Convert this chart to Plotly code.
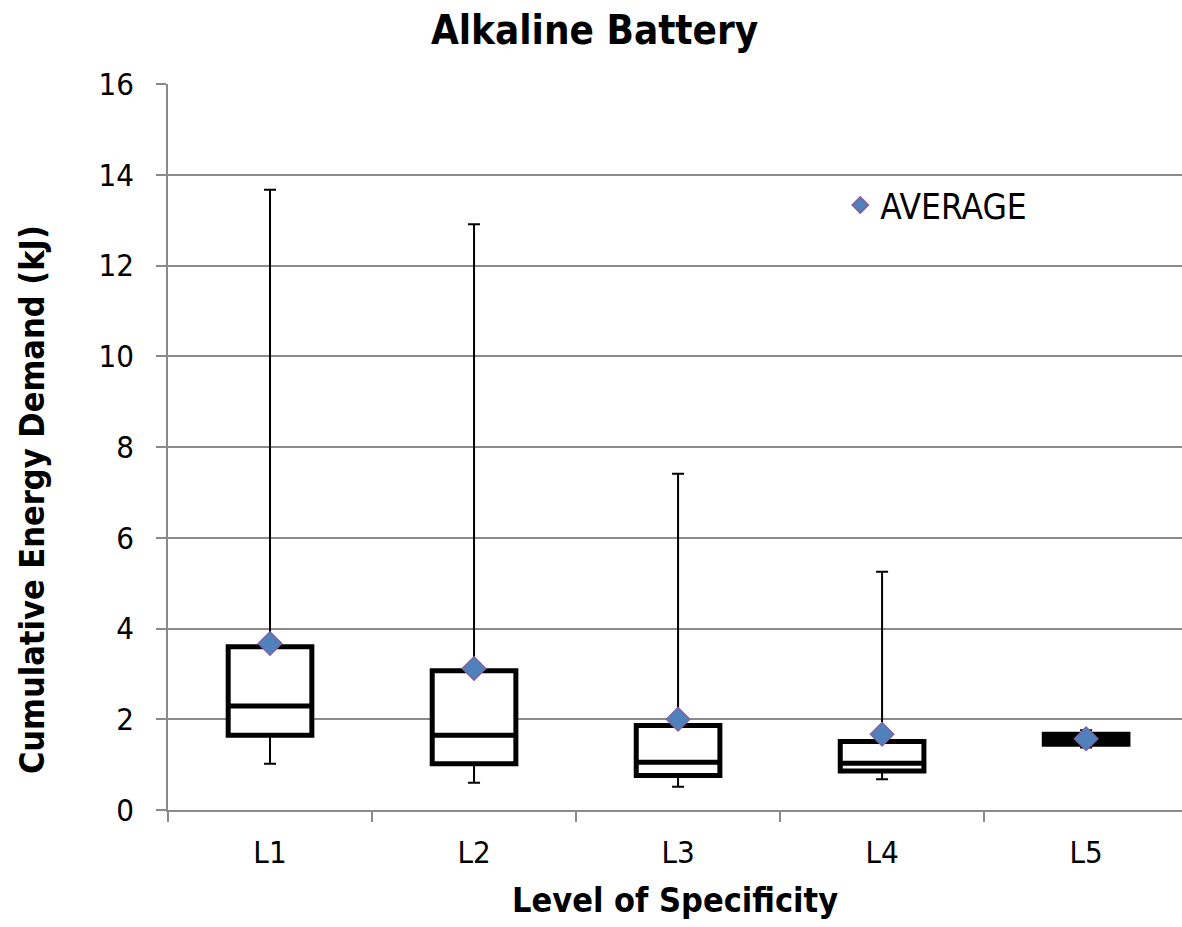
import plotly.graph_objects as go

categories = ["L1", "L2", "L3", "L4", "L5"]
q1 = [1.65, 1.02, 0.76, 0.86, 1.45]
median = [2.29, 1.65, 1.05, 1.03, 1.56]
q3 = [3.60, 3.07, 1.86, 1.51, 1.67]
whisker_min = [1.02, 0.60, 0.51, 0.68, 1.38]
whisker_max = [13.67, 12.91, 7.41, 5.25, 1.76]
average = [3.67, 3.12, 2.00, 1.67, 1.57]

FONT = "DejaVu Sans Condensed, DejaVu Sans"
GRID = "#8a8a8a"

fig = go.Figure()

# whiskers (thin lines with caps)
fig.add_trace(go.Scatter(
    x=categories, y=q3, mode="markers", marker=dict(size=0.1, color="rgba(0,0,0,0)"),
    error_y=dict(type="data", symmetric=False,
                 array=[a - b for a, b in zip(whisker_max, q3)],
                 arrayminus=[0] * 5, color="black", thickness=2, width=6),
    showlegend=False, hoverinfo="skip"))
fig.add_trace(go.Scatter(
    x=categories, y=q1, mode="markers", marker=dict(size=0.1, color="rgba(0,0,0,0)"),
    error_y=dict(type="data", symmetric=False,
                 array=[0] * 5,
                 arrayminus=[b - a for a, b in zip(whisker_min, q1)],
                 color="black", thickness=2, width=6),
    showlegend=False, hoverinfo="skip"))

# boxes
fig.add_trace(go.Box(
    x=categories, q1=q1, median=median, q3=q3,
    lowerfence=q1, upperfence=q3,
    width=0.41, whiskerwidth=0,
    line=dict(color="black", width=5), fillcolor="white",
    showlegend=False, hoverinfo="skip"))

# averages
fig.add_trace(go.Scatter(
    x=categories, y=average, mode="markers", name="AVERAGE",
    marker=dict(symbol="diamond", size=18, color="#4F81BD",
                line=dict(color="#8064A2", width=1.5)),
    showlegend=True))

fig.update_layout(
    width=1182, height=927,
    margin=dict(l=168, r=0, t=84, b=117),
    paper_bgcolor="white", plot_bgcolor="white",
    font=dict(family=FONT, color="black", size=30),
    title=dict(text="<b>Alkaline Battery</b>", x=0.503, xanchor="center",
               xref="container", y=0.968, yanchor="middle", yref="container",
               font=dict(family=FONT, size=40, color="black")),
    legend=dict(x=0.663, y=0.833, xanchor="left", yanchor="middle",
                bgcolor="rgba(0,0,0,0)", font=dict(size=35, family=FONT),
                itemsizing="constant"),
    xaxis=dict(
        type="category", range=[-0.5, 4.47],
        showline=True, linecolor=GRID, linewidth=1.5,
        ticks="outside", tickson="boundaries", ticklen=10, tickcolor=GRID, tickwidth=1.5,
        ticklabelstandoff=14,
        showgrid=False,
        tickfont=dict(size=31, family=FONT),
    ),
    yaxis=dict(
        range=[0, 16], tickvals=[0, 2, 4, 6, 8, 10, 12, 14, 16],
        showline=True, linecolor=GRID, linewidth=1.5,
        ticks="outside", ticklen=10, tickcolor=GRID, tickwidth=1.5,
        ticklabelstandoff=16,
        showgrid=True, gridcolor=GRID, gridwidth=1.5, zeroline=False,
        tickfont=dict(size=31, family=FONT),
    ),
    annotations=[
        dict(text="<b>Level of Specificity</b>", xref="paper", yref="paper",
             x=0.5, y=-0.124, xanchor="center", yanchor="middle", showarrow=False,
             font=dict(size=34, family=FONT, color="black")),
        dict(text="<b>Cumulative Energy Demand (kJ)</b>", xref="paper", yref="paper",
             x=-0.134, y=0.427, xanchor="center", yanchor="middle", showarrow=False,
             textangle=-90, font=dict(size=34, family=FONT, color="black")),
    ],
)

fig.write_html("out.html")
